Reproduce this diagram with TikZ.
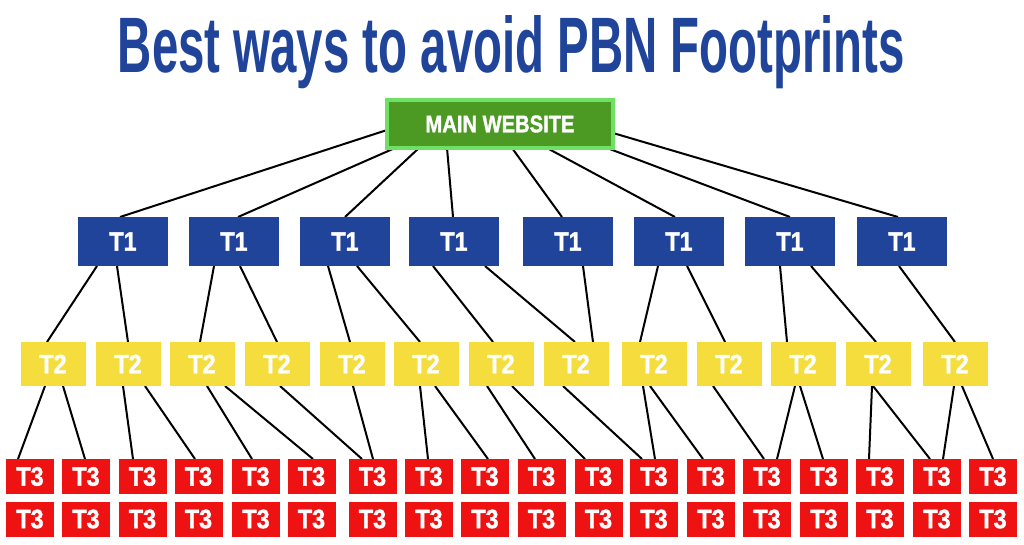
\documentclass[tikz,border=0pt]{standalone}
\usepackage{fontspec}
\setmainfont{Liberation Sans}
\newfontfamily\heavy{Liberation Sans}[FakeBold=1.6]
\usetikzlibrary{calc}
\definecolor{tblue}{RGB}{31,68,154}
\definecolor{tyellow}{RGB}{244,221,60}
\definecolor{tred}{RGB}{238,18,18}
\definecolor{tgreen}{RGB}{76,154,36}
\definecolor{tlgreen}{RGB}{110,224,100}
\pgfdeclarelayer{back}
\pgfdeclarelayer{bg}
\pgfsetlayers{back,bg,main}
\newcommand\pbnlink[4]{\draw[conn] ($(#1.south)+(#2,0)$) -- ($(#3.north)+(#4,0)$);}
\newcommand\tlab[1]{\scalebox{0.88}[1]{#1}}
\begin{document}
\begin{tikzpicture}[x=1pt,y=-1pt,
  conn/.style={black,line width=2pt},
  lvlbox/.style={rectangle,inner sep=0pt,outer sep=0pt,text=white,
     font=\heavy\bfseries\fontsize{26.5}{26.5}\selectfont},
  t1box/.style={lvlbox,fill=tblue,minimum width=90pt,minimum height=49pt},
  t2box/.style={lvlbox,fill=tyellow,minimum width=65pt,minimum height=44pt},
  t3box/.style={lvlbox,fill=tred,minimum width=48pt,minimum height=35pt},
  mainbox/.style={rectangle,inner sep=0pt,outer sep=0pt,fill=tgreen,draw=tlgreen,
     line width=3.5pt,minimum width=226pt,minimum height=48pt,text=white,
     font=\heavy\bfseries\fontsize{24}{24}\selectfont}]
\begin{pgfonlayer}{back}
\fill[white] (0,0) rectangle (1024,544);
\end{pgfonlayer}
\useasboundingbox (0,0) rectangle (1024,544);

\node[anchor=base,inner sep=0pt,text=tblue] (title) at (511.5,72)
  {\resizebox{787pt}{57pt}{\bfseries Best ways to avoid PBN Footprints}};

\node[mainbox] (m) at (500,124) {\scalebox{0.84}[1]{MAIN WEBSITE}};

\foreach \x [count=\i] in {123,234,345,454,568,679,790,902}
  \node[t1box] (a\i) at (\x,241.5) {\tlab{T1}};
\foreach \x [count=\i] in {53,128,202,277,352,426,501,576,654,729,803,878,955}
  \node[t2box] (b\i) at (\x,364) {\tlab{T2}};
\foreach \x [count=\i] in {30,86,142.5,198.5,256,311.5,372.5,429,485,541.5,598.5,654,711,767,824,880,937,993}{
  \node[t3box] (c\i) at (\x,476.5) {\tlab{T3}};
  \node[t3box] (d\i) at (\x,519) {\tlab{T3}};
}

\begin{pgfonlayer}{bg}
% main -> T1
\draw[conn] ($(m.north west)+(0,30)$) -- ($(a1.north)+(-3,0)$);
\draw[conn] ($(m.south west)+(8,0)$) -- ($(a2.north)+(4,0)$);
\draw[conn] ($(m.south west)+(32,0)$) -- (a3.north);
\draw[conn] ($(m.south west)+(60,0)$) -- ($(a4.north)+(-1,0)$);
\draw[conn] ($(m.south west)+(125,0)$) -- ($(a5.north)+(-6,0)$);
\draw[conn] ($(m.south west)+(160,0)$) -- ($(a6.north)+(-4,0)$);
\draw[conn] ($(m.south west)+(220,0)$) -- (a7.north);
\draw[conn] ($(m.north east)+(0,33)$) -- ($(a8.north)+(-4,0)$);
% T1 -> T2
\pbnlink{a1}{-26}{b1}{-6}
\pbnlink{a1}{-6}{b2}{0}
\pbnlink{a2}{-20}{b3}{-2}
\pbnlink{a2}{6}{b4}{0}
\pbnlink{a3}{-17}{b5}{-2}
\pbnlink{a3}{12}{b6}{-6}
\pbnlink{a4}{-21}{b7}{-8}
\pbnlink{a4}{31}{b8}{-1}
\pbnlink{a5}{15}{b8}{17}
\pbnlink{a6}{-21}{b9}{-14}
\pbnlink{a6}{8}{b10}{-4}
\pbnlink{a7}{-10}{b11}{-16}
\pbnlink{a7}{21}{b12}{-2}
\pbnlink{a8}{-3}{b13}{0}
% T2 -> T3
\pbnlink{b1}{-8}{c1}{-12}
\pbnlink{b1}{10}{c2}{-1}
\pbnlink{b2}{-5}{c3}{-9.5}
\pbnlink{b2}{17}{c4}{-3.5}
\pbnlink{b3}{5}{c5}{-4}
\pbnlink{b3}{23}{c6}{1.5}
\pbnlink{b4}{3}{c7}{-10.5}
\pbnlink{b5}{1}{c7}{0.5}
\pbnlink{b6}{-6}{c8}{-1}
\pbnlink{b6}{9}{c9}{3}
\pbnlink{b7}{-14}{c10}{-6.5}
\pbnlink{b7}{11}{c11}{-13.5}
\pbnlink{b8}{-13}{c12}{-12}
\pbnlink{b9}{-11}{c12}{1}
\pbnlink{b9}{-4}{c13}{-8}
\pbnlink{b10}{-16}{c14}{-3}
\pbnlink{b11}{-8}{c14}{10}
\pbnlink{b11}{-3}{c15}{-1}
\pbnlink{b12}{-6}{c16}{-11}
\pbnlink{b12}{-5}{c17}{-7}
\pbnlink{b13}{-1}{c17}{6}
\pbnlink{b13}{7}{c18}{0}
\end{pgfonlayer}
\end{tikzpicture}
\end{document}
